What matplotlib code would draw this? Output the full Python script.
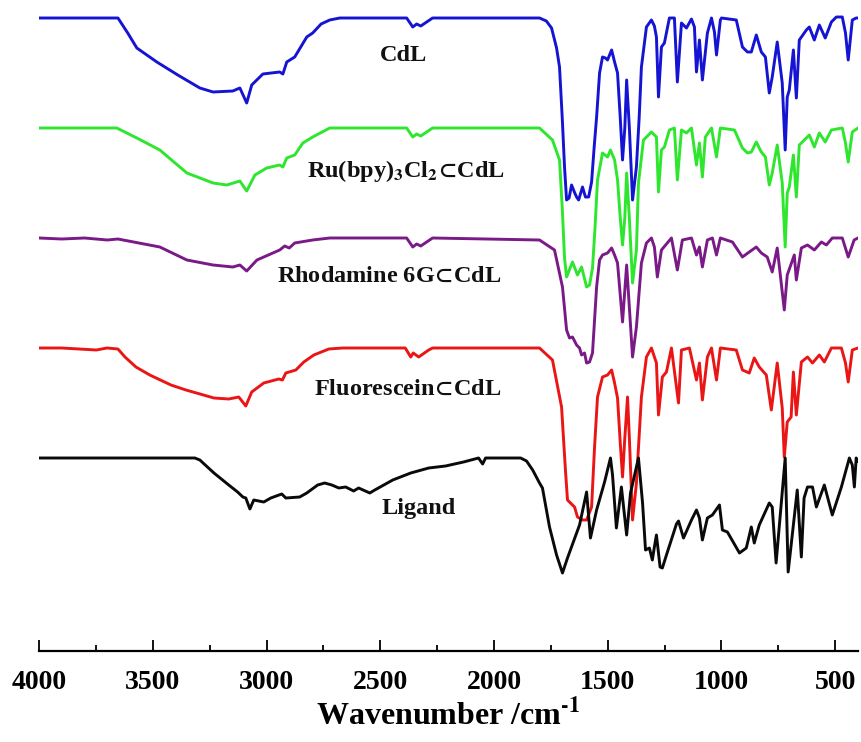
import numpy as np
import matplotlib
matplotlib.use("Agg")
import matplotlib.pyplot as plt
from matplotlib.ticker import MultipleLocator

plt.rcParams['font.family'] = ['Liberation Serif', 'DejaVu Serif']
plt.rcParams['font.weight'] = 'bold'
plt.rcParams['mathtext.fontset'] = 'stix'
plt.rcParams['mathtext.default'] = 'bf'

# ---- data: (wavenumber, relative transmittance) ----
cdl_wn = [4000, 3900, 3800, 3700, 3653, 3610, 3570, 3482, 3390, 3293, 3235, 3148, 3117, 3087, 3065, 3016,
          2942, 2928, 2911, 2876, 2823, 2797, 2760, 2722, 2678, 2384, 2357, 2340, 2322, 2270,
          1800, 1770, 1747, 1725, 1712, 1700, 1690, 1681, 1670, 1659, 1645, 1637, 1628, 1611,
          1598, 1584, 1571, 1560, 1549, 1536, 1523, 1510, 1501, 1483, 1470, 1457, 1445, 1435,
          1425, 1417, 1405, 1391, 1374, 1362, 1352, 1330, 1308, 1295, 1286, 1277, 1264, 1251,
          1229, 1207, 1194, 1176, 1154, 1132, 1119, 1110, 1097, 1084, 1062, 1044, 1031, 1022,
          1005, 1000, 935, 908, 886, 869, 847, 825, 807, 790, 777, 755, 733, 720, 711, 702, 684,
          671, 658, 627, 614, 592, 570, 544, 517, 495, 469, 455, 443, 425, 408, 400]
cdl_t = [0, 0, 0, 0, 0, -15, -30, -44, -57, -70, -74, -73, -70, -85, -67, -56,
         -54, -56, -44, -39, -19, -15, -6, -2, 0, 0, -9, -6, -8, 0,
         0, -3, -10, -30, -49, -100, -149, -182, -180, -167, -175, -179, -182, -169,
         -179, -179, -164, -130, -99, -55, -39, -40, -42, -32, -44, -55, -100, -142,
         -110, -62, -110, -182, -149, -100, -49, -9, -2, -8, -19, -79, -29, -25,
         0, 0, -64, -5, -10, -1, -9, -54, -22, -62, -15, 0, -14, -37,
         -2, 0, -2, -29, -34, -34, -17, -34, -39, -75, -59, -24, -65, -132, -79, -72, -32,
         -80, -22, -12, -9, -22, -7, -20, -4, 1, 1, -15, -42, -2, 0, 0]

ru_wn = [4000, 3800, 3658, 3570, 3469, 3350, 3235, 3174, 3117, 3087, 3051, 2999, 2942, 2928,
         2911, 2876, 2840, 2797, 2722, 2384, 2357, 2340, 2322, 2270,
         1800, 1743, 1712, 1700, 1690, 1681, 1655, 1633, 1615, 1593, 1580, 1567, 1556, 1545,
         1523, 1501, 1488, 1470, 1457, 1445, 1435, 1425, 1417, 1405, 1391, 1374, 1365, 1343,
         1308, 1286, 1277, 1264, 1251, 1229, 1207, 1194, 1176, 1154, 1132, 1110, 1097, 1084,
         1071, 1044, 1022, 1005, 943, 908, 886, 869, 847, 825, 807, 790, 777, 755, 733, 720,
         711, 702, 684, 671, 658, 627, 614, 592, 570, 544, 517, 469, 455, 443, 425, 400]
ru_t = [0, 0, 0, -10, -22, -45, -55, -57, -53, -63, -47, -40, -37, -39,
        -30, -27, -15, -9, 0, 0, -9, -6, -8, 0,
        0, -12, -32, -80, -130, -149, -134, -147, -139, -159, -157, -140, -100, -52,
        -25, -29, -22, -32, -52, -90, -117, -90, -45, -90, -155, -122, -55, -12,
        -4, -9, -64, -22, -19, -2, 0, -52, -2, -5, 0, -37, -15, -49,
        -9, 0, -29, 0, -2, -20, -25, -24, -14, -24, -29, -57, -45, -17, -55, -119,
        -65, -59, -27, -69, -17, -10, -7, -19, -5, -14, -2, 0, -15, -34, -4, 0]

rh_wn = [4000, 3900, 3800, 3700, 3653, 3469, 3350, 3235, 3148, 3117, 3087, 3042, 2942, 2920,
         2900, 2876, 2797, 2722, 2384, 2357, 2340, 2322, 2270,
         1800, 1734, 1699, 1681, 1668, 1655, 1637, 1624, 1615, 1602, 1593, 1580, 1567, 1549,
         1536, 1523, 1501, 1483, 1470, 1457, 1435, 1417, 1391, 1374, 1352, 1330, 1308, 1295,
         1282, 1264, 1220, 1194, 1172, 1132, 1110, 1097, 1084, 1062, 1040, 1022, 1005, 952,
         908, 878, 847, 825, 799, 777, 755, 724, 711, 680, 671, 649, 622, 592, 561, 539, 513,
         469, 443, 417, 400]
rh_t = [0, -1, 0, -2, -1, -9, -22, -27, -29, -27, -33, -22, -12, -8,
        -10, -5, -2, 0, 0, -9, -6, -8, 0,
        -2, -12, -49, -92, -100, -99, -107, -110, -117, -115, -125, -124, -115, -49,
        -22, -17, -15, -10, -17, -25, -84, -27, -119, -89, -25, -5, 0, -9,
        -39, -12, 0, -32, -2, 0, -17, -9, -29, -2, 0, -17, 0, -4,
        -19, -14, -9, -15, -19, -34, -10, -72, -37, -17, -42, -10, -7, -12, -4, -7, 0,
        0, -19, -2, 0]

fl_wn = [4000, 3900, 3748, 3701, 3653, 3622, 3574, 3513, 3420, 3354, 3231, 3166, 3122, 3091,
         3065, 3012, 2946, 2930, 2915, 2871, 2836, 2792, 2726, 2665, 2390, 2366, 2355, 2331,
         2287, 2270,
         1800, 1743, 1703, 1686, 1677, 1646, 1633, 1611, 1593, 1571, 1558, 1545, 1523, 1501,
         1483, 1470, 1457, 1445, 1435, 1425, 1413, 1405, 1391, 1374, 1352, 1330, 1308, 1286,
         1277, 1260, 1242, 1220, 1189, 1176, 1141, 1110, 1097, 1084, 1062, 1044, 1022, 1005,
         935, 908, 878, 856, 834, 803, 781, 755, 733, 724, 711, 694, 684, 671, 649, 622, 600,
         570, 548, 517, 473, 455, 443, 425, 400]
fl_t = [0, 0, -2, 0, -1, -9, -19, -27, -37, -42, -50, -51, -49, -58,
        -44, -35, -31, -32, -25, -22, -14, -7, -1, 0, 0, -9, -5, -9,
        -2, 0,
        0, -12, -59, -122, -152, -159, -169, -172, -172, -159, -99, -49, -29, -27,
        -22, -35, -50, -95, -129, -90, -49, -90, -172, -135, -49, -9, 0, -15,
        -67, -29, -24, 0, -55, -2, 0, -32, -15, -52, -9, 0, -32, 0,
        -2, -22, -25, -10, -19, -27, -62, -15, -60, -109, -74, -69, -24, -67, -14, -9, -15,
        -7, -14, 0, 0, -15, -34, -2, 0]

lig_wn = [4000, 3315, 3293, 3231, 3166, 3127, 3104, 3091, 3073, 3056, 3012, 2981, 2933, 2915,
          2854, 2823, 2775, 2744, 2713, 2682, 2652, 2617, 2595, 2546, 2524, 2445, 2366, 2287,
          2213, 2134, 2068, 2050, 2037, 1883, 1857, 1830, 1800, 1787, 1756, 1725, 1699, 1677,
          1624, 1593, 1576, 1549, 1514, 1488, 1479, 1462, 1440, 1417, 1400, 1365, 1347, 1334,
          1317, 1304, 1295, 1286, 1270, 1260, 1242, 1198, 1189, 1167, 1132, 1110, 1097, 1084,
          1062, 1040, 1009, 996, 974, 921, 891, 869, 856, 834, 790, 777, 760, 720, 707, 667,
          649, 637, 622, 600, 583, 548, 513, 473, 438, 425, 416, 408, 400]
lig_t = [0, 0, -2, -15, -27, -34, -39, -40, -51, -42, -44, -40, -36, -40,
         -39, -35, -27, -25, -27, -30, -29, -33, -30, -35, -32, -22, -15, -10,
         -8, -4, 0, -6, 0, 0, -3, -12, -25, -30, -69, -97, -115, -100,
         -67, -34, -80, -52, -24, 0, -17, -70, -29, -77, -35, 0, -45, -92,
         -90, -102, -89, -77, -109, -110, -97, -66, -63, -80, -62, -52, -60, -82,
         -60, -57, -47, -72, -74, -95, -90, -69, -85, -67, -45, -49, -105, 0, -114, -32,
         -99, -40, -29, -29, -49, -27, -57, -29, 0, -7, -29, 0, -3]

names = ['CdL', 'Ru(bpy)$_3$Cl$_2$$\\!\\subset\\!$CdL', 'Rhodamine 6G$\\!\\subset\\!$CdL',
         'Fluorescein$\\!\\subset\\!$CdL', 'Ligand']
offsets = [440, 330, 220, 110, 0]
colors = ['#1414d2', '#2ee62e', '#7a1a86', '#ea1515', '#0a0a0a']
series = [(cdl_wn, cdl_t), (ru_wn, ru_t), (rh_wn, rh_t), (fl_wn, fl_t), (lig_wn, lig_t)]

# label anchors (wavenumber, offset units, alignment)
label_pos = [(2397, 397, 'center'), (1953, 281, 'right'), (1967, 176, 'right'),
             (1967, 63, 'right'), (2333, -56, 'center')]

fig = plt.figure(figsize=(8.61, 7.42), dpi=100)
ax = fig.add_axes([39 / 861, 91 / 742, 819 / 861, 651 / 742])

for (wn, t), off, c in zip(series, offsets, colors):
    ax.plot(wn, np.array(t) + off, color=c, lw=2.1, solid_joinstyle='round')

for name, (x, y, ha) in zip(names, label_pos):
    ax.text(x, y, name, ha=ha, va='baseline', fontsize=17.5, fontweight='bold',
            color='#111111')

ax.set_xlim(4000, 400)
ax.set_ylim(-193, 458)
for s in ['left', 'right', 'top']:
    ax.spines[s].set_visible(False)
ax.spines['bottom'].set_linewidth(1.6)
ax.set_yticks([])
ax.xaxis.set_major_locator(MultipleLocator(500))
ax.xaxis.set_minor_locator(MultipleLocator(250))
ax.tick_params(axis='x', which='major', direction='in', length=8, width=1.3, pad=14,
               labelsize=20)
ax.tick_params(axis='x', which='minor', direction='in', length=4, width=1.3)
for lab in ax.get_xticklabels():
    lab.set_fontweight('bold')
ax.set_xlabel('Wavenumber /cm$^{\\text{-1}}$', fontsize=23, fontweight='bold', labelpad=2)

fig.savefig('out.png', dpi=100)
